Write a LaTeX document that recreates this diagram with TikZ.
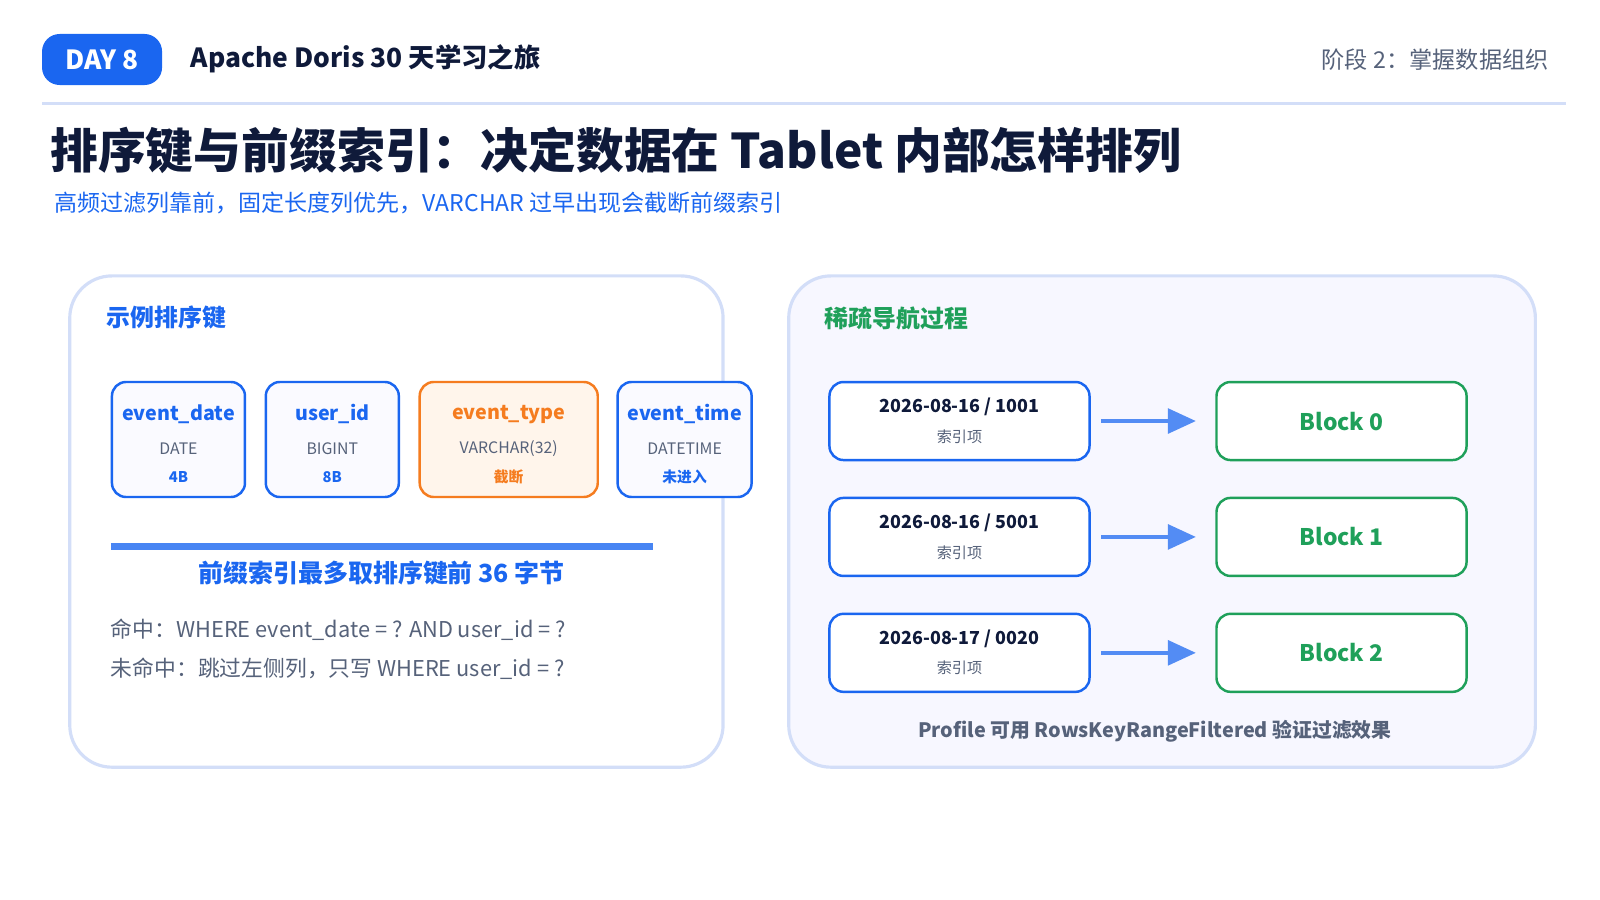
\documentclass[tikz,border=0pt]{standalone}
\usepackage{fontspec}
\setmainfont{Noto Sans CJK SC}
\usetikzlibrary{positioning,arrows.meta}
\definecolor{dblue}{HTML}{1A66F0}
\definecolor{dgreen}{HTML}{1FA05A}
\definecolor{dorange}{HTML}{F57C1F}
\definecolor{dgray}{HTML}{56627A}
\definecolor{dnavy}{HTML}{0F1A3A}
\definecolor{panelline}{HTML}{D3DEF8}
\tikzset{
  field/.style={draw=dblue,line width=0.7pt,rounded corners=4pt,fill=blue!2,minimum height=1.15cm},
  entry/.style={draw=dblue,line width=0.7pt,rounded corners=4pt,fill=white,minimum width=2.6cm,minimum height=0.78cm},
  block/.style={draw=dgreen,line width=0.7pt,rounded corners=4pt,fill=white,minimum width=2.5cm,minimum height=0.78cm,text=dgreen,font=\bfseries\fontsize{6.5}{8}\selectfont},
  flow/.style={-{Triangle[length=8pt,width=7pt]},line width=1.2pt,draw=dblue!75}
}
\begin{document}
\begin{tikzpicture}[x=0.01026cm,y=-0.01026cm]
\useasboundingbox (0,0) rectangle (1560,877);

% header
\node[fill=dblue,rounded corners=5pt,minimum width=1.2cm,minimum height=0.51cm,text=white,font=\bfseries\fontsize{7.5}{9}\selectfont] (day) at (99.5,58) {DAY 8};
\node[anchor=west,text=dnavy,font=\bfseries\fontsize{7.5}{9}\selectfont] (series) at (174,57) {Apache Doris 30 天学习之旅};
\node[anchor=east,text=dgray,font=\fontsize{6.6}{8}\selectfont] (stage) at (1522,58) {阶段 2：掌握数据组织};
\draw[panelline,line width=0.8pt] (41,101) -- (1527,101);
\node[anchor=west,text=dnavy,font=\bfseries\fontsize{13.6}{16}\selectfont] (title) at (37,147) {排序键与前缀索引：决定数据在 Tablet 内部怎样排列};
\node[anchor=west,text=dblue,font=\fontsize{6.55}{8}\selectfont] (sub) at (41,198) {高频过滤列靠前，固定长度列优先，VARCHAR 过早出现会截断前缀索引};

% panels
\draw[panelline,line width=0.9pt,rounded corners=12pt,fill=white] (68,269) rectangle (705,748);
\draw[panelline,line width=0.9pt,rounded corners=12pt,fill=blue!3] (769,269) rectangle (1497,748);
\node[anchor=west,text=dblue,font=\bfseries\fontsize{6.8}{8}\selectfont] (lhead) at (92,310) {示例排序键};
\node[anchor=west,text=dgreen,font=\bfseries\fontsize{6.8}{8}\selectfont] (rhead) at (792,310) {稀疏导航过程};

% sort key columns
\foreach \n/\c/\t/\s/\x/\w in {f1/event\_date/DATE/4B/174/1.33, f2/user\_id/BIGINT/8B/324/1.33, f4/event\_time/DATETIME/未进入/667.5/1.34}{
  \node[field,minimum width=\w cm] (\n) at (\x,428.5) {};
  \node[text=dblue,font=\bfseries\fontsize{5.6}{8}\selectfont] (\n c) at (\x,404) {\c};
  \node[text=dgray,font=\fontsize{4.5}{6}\selectfont] (\n t) at (\x,437) {\t};
  \node[text=dblue,font=\bfseries\fontsize{4.2}{6}\selectfont] (\n s) at (\x,465) {\s};
}
\node[field,draw=dorange,fill=orange!8,minimum width=1.78cm] (f3) at (496,428.5) {};
\node[text=dorange,font=\bfseries\fontsize{5.6}{8}\selectfont] (f3c) at (496,404) {event\_type};
\node[text=dgray,font=\fontsize{4.5}{6}\selectfont] (f3t) at (496,437) {VARCHAR(32)};
\node[text=dorange,font=\bfseries\fontsize{4.2}{6}\selectfont] (f3s) at (496,465) {截断};

\draw[dblue!80,line width=2pt] (108,533) -- (637,533);
\node[text=dblue,font=\bfseries\fontsize{7.1}{8}\selectfont] (limit) at (372,559) {前缀索引最多取排序键前 36 字节};
\node[anchor=west,text=dgray,font=\fontsize{6.2}{8}\selectfont] (hit) at (96,614) {命中：WHERE event\_date = ? AND user\_id = ?};
\node[anchor=west,text=dgray,font=\fontsize{6.2}{8}\selectfont] (miss) at (96,652) {未命中：跳过左侧列，只写 WHERE user\_id = ?};

% sparse index
\foreach \i/\k/\y in {0/{2026-08-16 / 1001}/410.5, 1/{2026-08-16 / 5001}/523.5, 2/{2026-08-17 / 0020}/636.5}{
  \node[entry] (e\i) at (935.5,\y) {};
  \node[text=dnavy,font=\bfseries\fontsize{5.1}{7}\selectfont] (k\i) at (935.5,\y-14) {\k};
  \node[text=dgray,font=\fontsize{4.3}{6}\selectfont] (t\i) at (935.5,\y+15) {索引项};
  \node[block] (b\i) at (1308,\y) {Block \i};
  \draw[flow] ([xshift=3pt]e\i.east) -- ([xshift=-5.5pt]b\i.west);
}
\node[text=dgray,font=\bfseries\fontsize{5.65}{7}\selectfont] (note) at (1126,713) {Profile 可用 RowsKeyRangeFiltered 验证过滤效果};
\end{tikzpicture}
\end{document}
